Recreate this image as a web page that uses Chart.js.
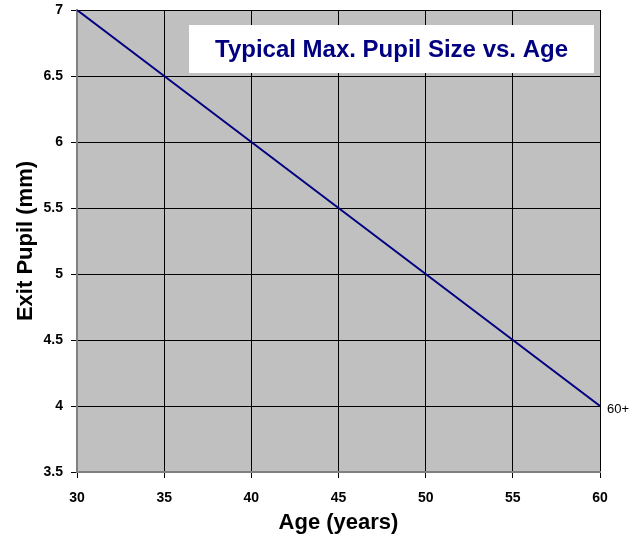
<!DOCTYPE html>
<html>
<head>
<meta charset="utf-8">
<script src="https://cdn.jsdelivr.net/npm/chart.js@4"></script>
<style>
  html, body { margin: 0; padding: 0; background: #fff; }
  #wrap { width: 642px; height: 542px; }
</style>
</head>
<body>
<div id="wrap"><canvas id="pupilChart" width="642" height="542"></canvas></div>
<script>
// Typical max. pupil size vs. age
const ages = [30, 35, 40, 45, 50, 55, 60];
const pupilMm = [7, 6.5, 6, 5.5, 5, 4.5, 4];
const chartTitle = "Typical Max. Pupil Size vs. Age";
const endLabel = "60+";

const navy = "#000080";
const fontFamily = "'Liberation Sans', Arial, sans-serif";

// gray plot background + white title box + end label
const plotDecor = {
	id: "plotDecor",
	beforeDraw(chart) {
		const { ctx, chartArea } = chart;
		ctx.save();
		ctx.fillStyle = "#c0c0c0";
		ctx.fillRect(chartArea.left, chartArea.top, chartArea.right - chartArea.left, chartArea.bottom - chartArea.top);
		ctx.restore();
	},
	afterDraw(chart) {
		const { ctx, chartArea } = chart;
		ctx.save();
		// title box
		const boxW = 405, boxH = 48;
		const boxX = chartArea.right - 6 - boxW;
		const boxY = chartArea.top + 15;
		ctx.fillStyle = "#ffffff";
		ctx.fillRect(boxX, boxY, boxW, boxH);
		ctx.fillStyle = navy;
		ctx.font = "bold 24px " + fontFamily;
		ctx.textAlign = "center";
		ctx.textBaseline = "middle";
		ctx.fillText(chartTitle, boxX + boxW / 2, boxY + boxH / 2 + 1);

		// last point label
		const xs = chart.scales.x, ys = chart.scales.y;
		const lastX = xs.getPixelForValue(ages[ages.length - 1]);
		const lastY = ys.getPixelForValue(pupilMm[pupilMm.length - 1]);
		ctx.fillStyle = "#000";
		ctx.font = "13px " + fontFamily;
		ctx.textAlign = "left";
		ctx.fillText(endLabel, lastX + 7, lastY + 3);
		ctx.restore();
	},
};

const pupilData = {
	datasets: [
		{
			label: "Exit Pupil",
			data: ages.map((a, i) => ({ x: a, y: pupilMm[i] })),
			borderColor: navy,
			borderWidth: 2,
			pointRadius: 0,
			fill: false,
			tension: 0,
		},
	],
};

const pupilConfig = {
	type: "line",
	data: pupilData,
	plugins: [plotDecor],
	options: {
		responsive: false,
		animation: false,
		layout: { padding: { top: 10, right: 42, bottom: 0, left: 0 } },
		plugins: {
			legend: { display: false },
			tooltip: { enabled: false },
		},
		scales: {
			x: {
				type: "linear",
				min: 30,
				max: 60,
				afterFit(scale) { scale.height = 70; },
				ticks: {
					stepSize: 5,
					padding: 12,
					color: "#000",
					font: { family: fontFamily, size: 14, weight: "bold" },
				},
				grid: {
					color: "#000",
					lineWidth: 1,
					tickLength: 6,
					tickColor: "#000",
				},
				border: { color: "#808080", width: 2 },
				title: {
					display: true,
					text: "Age (years)",
					color: "#000",
					font: { family: fontFamily, size: 22, weight: "bold" },
					padding: { top: 4, bottom: 6 },
				},
			},
			y: {
				min: 3.5,
				max: 7,
				afterFit(scale) {
					scale.width = 77;
					scale.paddingTop = 0;
					scale.paddingBottom = 0;
				},
				ticks: {
					stepSize: 0.5,
					padding: 8,
					color: "#000",
					font: { family: fontFamily, size: 14, weight: "bold" },
					callback: (v) => String(v),
				},
				grid: {
					color: "#000",
					lineWidth: 1,
					tickLength: 6,
					tickColor: "#000",
				},
				border: { color: "#808080", width: 2 },
				title: {
					display: true,
					text: "Exit Pupil (mm)",
					color: "#000",
					font: { family: fontFamily, size: 22, weight: "bold" },
					padding: { top: 13, bottom: 0 },
				},
			},
		},
	},
};

const PupilChart = new Chart(document.getElementById("pupilChart"), pupilConfig);
</script>
</body>
</html>
